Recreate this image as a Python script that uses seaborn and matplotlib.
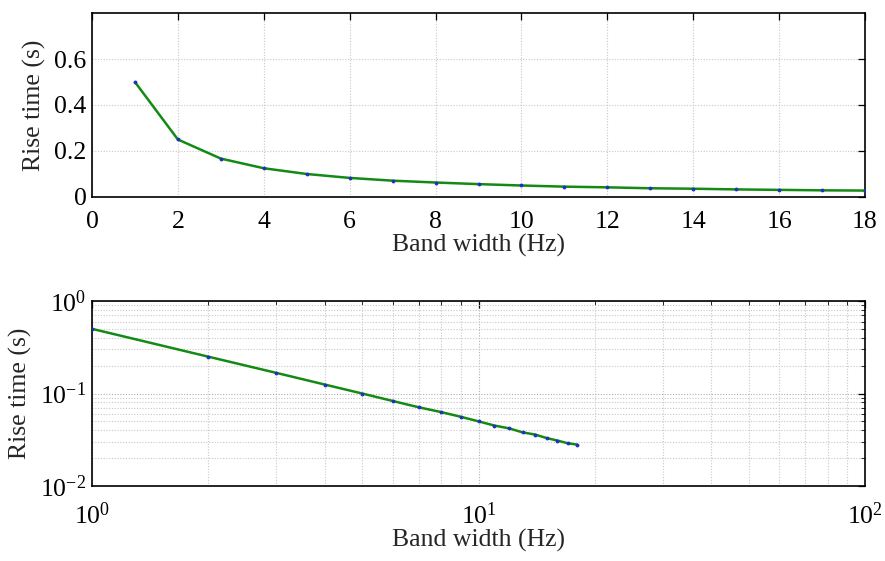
import matplotlib
matplotlib.use("Agg")
import matplotlib.pyplot as plt
import seaborn as sns
import pandas as pd
import numpy as np
from matplotlib.ticker import LogLocator, NullFormatter, FuncFormatter

band_width = [1, 2, 3, 4, 5, 6, 7, 8, 9, 10, 11, 12, 13, 14, 15, 16, 17, 18]
rise_time = [0.5, 0.25, 0.167, 0.125, 0.1, 0.083, 0.071, 0.063, 0.056, 0.05,
             0.045, 0.042, 0.038, 0.036, 0.033, 0.031, 0.029, 0.028]
top_xticks = [0, 2, 4, 6, 8, 10, 12, 14, 16, 18]
top_yticks = [0, 0.2, 0.4, 0.6]
top_yticklabels = ["0", "0.2", "0.4", "0.6"]

df = pd.DataFrame({"bw": band_width, "rt": rise_time})

sns.set_theme(style="white")
plt.rcParams['font.family'] = ['Liberation Serif', 'DejaVu Serif']
plt.rcParams['mathtext.fontset'] = 'custom'
plt.rcParams['mathtext.rm'] = 'Liberation Serif'
plt.rcParams['mathtext.it'] = 'Liberation Serif'

line_color = "#138a13"
marker_color = "#2030c0"
fs = 18.5

fig = plt.figure(figsize=(8.85, 5.61), dpi=100)
ax1 = fig.add_axes([92/885, 1-197/561, (865-92)/885, (197-13)/561])
ax2 = fig.add_axes([92/885, 1-486/561, (865-92)/885, (486-301)/561])

for ax in (ax1, ax2):
    sns.lineplot(data=df, x="bw", y="rt", ax=ax, color=line_color, lw=1.8,
                 marker="o", markersize=2.0, markerfacecolor=marker_color,
                 markeredgecolor=marker_color, zorder=3)
    for s in ax.spines.values():
        s.set_color("black")
        s.set_linewidth(1.2)
    ax.tick_params(direction="in", top=True, right=True, length=5, width=0.9,
                   labelsize=fs, colors="black", pad=4)
    ax.tick_params(which="minor", direction="in", top=True, right=True, length=3, width=0.7)

ax1.set_xlim(0, 18)
ax1.set_ylim(0, 0.8)
ax1.set_xticks(top_xticks)
ax1.set_yticks(top_yticks)
ax1.set_yticklabels(top_yticklabels)
ax1.grid(True, color="#c8c8c8", linestyle=(0, (1, 1.5)), lw=0.8)
ax1.tick_params(axis="x", pad=10)
ax1.set_xlabel("Band width (Hz)", fontsize=fs, labelpad=1)
ax1.set_ylabel("Rise time (s)", fontsize=fs, labelpad=6)

def pow_fmt(v, pos):
    e = int(round(np.log10(v)))
    return r"$\mathrm{10}^{\mathrm{%s}}$" % ("-%d" % -e if e < 0 else "%d" % e)

ax2.set_xscale("log")
ax2.set_yscale("log")
ax2.set_xlim(1, 100)
ax2.set_ylim(0.01, 1)
ax2.xaxis.set_major_locator(LogLocator(base=10, numticks=5))
ax2.yaxis.set_major_locator(LogLocator(base=10, numticks=5))
ax2.xaxis.set_major_formatter(FuncFormatter(pow_fmt))
ax2.yaxis.set_major_formatter(FuncFormatter(pow_fmt))
ax2.xaxis.set_minor_locator(LogLocator(base=10, subs=np.arange(2, 10), numticks=20))
ax2.yaxis.set_minor_locator(LogLocator(base=10, subs=np.arange(2, 10), numticks=20))
ax2.xaxis.set_minor_formatter(NullFormatter())
ax2.yaxis.set_minor_formatter(NullFormatter())
ax2.grid(True, which="major", color="#b0b0b0", linestyle=(0, (1, 1.5)), lw=0.8)
ax2.grid(True, which="minor", color="#c8c8c8", linestyle=(0, (1, 1.5)), lw=0.8)
ax2.tick_params(axis="x", pad=12)
ax2.set_xlabel("Band width (Hz)", fontsize=fs, labelpad=0)
ax2.set_ylabel("Rise time (s)", fontsize=fs, labelpad=6)

fig.savefig("out.png", dpi=100, facecolor="white")
